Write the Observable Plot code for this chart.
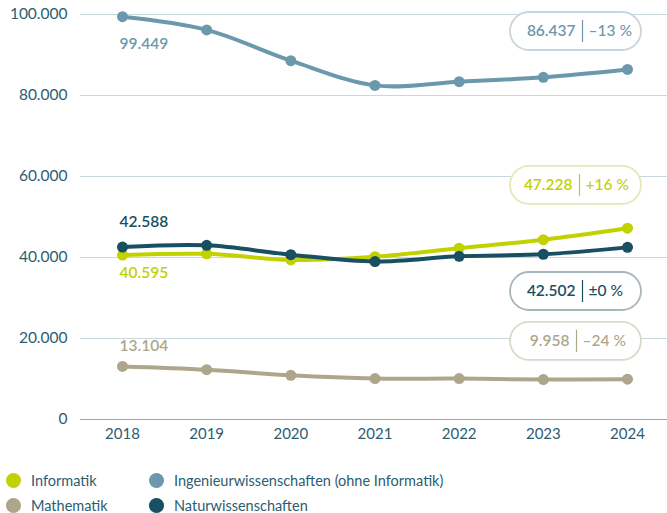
<!DOCTYPE html>
<html>
<head>
<meta charset="utf-8">
<script src="https://cdn.jsdelivr.net/npm/d3@7"></script>
<script src="https://cdn.jsdelivr.net/npm/@observablehq/plot@0.6"></script>
<style>
  html, body { margin: 0; padding: 0; background: #fff; }
  body { width: 667px; height: 513px; overflow: hidden; font-family: Lato, "Open Sans", sans-serif; }
  #legend { position: relative; height: 58px; color: #2b5d72; font-size: 14.5px; }
  .item { position: absolute; display: flex; align-items: center; white-space: nowrap; }
  .sw { width: 15px; height: 15px; border-radius: 50%; margin-right: 10px; }
</style>
</head>
<body>
<div id="chart"></div>
<div id="legend"></div>
<script>
// ---- data ----
const years = [2018, 2019, 2020, 2021, 2022, 2023, 2024];
const seriesNames = ["Informatik", "Ingenieurwissenschaften (ohne Informatik)", "Mathematik", "Naturwissenschaften"];
const informatik = [40595, 40900, 39400, 40200, 42300, 44400, 47228];
const ingenieur  = [99449, 96200, 88600, 82500, 83400, 84500, 86437];
const mathematik = [13104, 12300, 10900, 10100, 10100, 9850, 9958];
const natur      = [42588, 43000, 40700, 39000, 40300, 40800, 42502];
const changeLabels = ["+16 %", "\u201313 %", "\u201324 %", "\u00b10 %"];
const yTicks = [0, 20000, 40000, 60000, 80000, 100000];

// ---- styling / annotation placement ----
const colors = ["#c2d100", "#6b98ac", "#aea68a", "#184f62"];
const boxBorders = ["#e4eab2", "#c6d7df", "#ddd8c9", "#a9b6be"];
const boxY = [57800, 95800, 19300, 31600];       // box centre in y units
const sepDx = [-48, -45, -51, -45];              // separator offset from last year (px)
const startDy = [18, 27, -20, -25];              // first-value label offset (px)
const drawOrder = [2, 0, 1, 3];

const allSeries = [informatik, ingenieur, mathematik, natur];
const fmt = v => d3.format(",")(v).replace(/,/g, ".");

const rows = [];
drawOrder.forEach(s => years.forEach((yr, i) => rows.push({series: seriesNames[s], s, year: yr, value: allSeries[s][i]})));

const firstRows = allSeries.map((arr, s) => ({s, year: years[0], value: arr[0], label: fmt(arr[0])}));
const boxes = allSeries.map((arr, s) => ({s, year: years[years.length - 1], y: boxY[s],
  num: fmt(arr[arr.length - 1]), pct: changeLabels[s]}));

const marks = [
  Plot.gridY(yTicks.filter(d => d > 0), {stroke: "#c9d8df", strokeOpacity: 1, strokeWidth: 1}),
  Plot.ruleY([0], {stroke: "#8ea7b3", strokeWidth: 1.2}),
  Plot.axisY({ticks: yTicks, tickSize: 0, tickPadding: 13, tickFormat: fmt, fontSize: 15.5, fill: "#2b5d72", label: null}),
  Plot.axisX({ticks: years, tickSize: 0, tickPadding: 9, tickFormat: d => String(d), fontSize: 15, fill: "#2b5d72", label: null})
];
drawOrder.forEach(s => {
  const data = rows.filter(r => r.s === s);
  marks.push(Plot.line(data, {x: "year", y: "value", stroke: colors[s], strokeWidth: 4, curve: "catmull-rom"}));
  marks.push(Plot.dot(data, {x: "year", y: "value", fill: colors[s], r: 5.5}));
});
firstRows.forEach(d => {
  marks.push(Plot.text([d], {x: "year", y: "value", text: "label", fill: colors[d.s], textAnchor: "start",
    dx: -3, dy: startDy[d.s], fontSize: 15.5, fontWeight: 600}));
});
boxes.forEach(b => {
  marks.push(Plot.rect([b], {x1: "year", x2: "year", y1: "y", y2: "y", fill: "white", stroke: boxBorders[b.s],
    strokeWidth: 1.8, rx: 19, insetLeft: -117, insetRight: -14, insetTop: -19, insetBottom: -19}));
  marks.push(Plot.ruleX([b], {x: "year", y1: "y", y2: "y", dx: sepDx[b.s], stroke: colors[b.s], strokeWidth: 1.2,
    insetTop: -11, insetBottom: -11}));
  marks.push(Plot.text([b], {x: "year", y: "y", text: "num", fill: colors[b.s], textAnchor: "end",
    dx: sepDx[b.s] - 7, fontSize: 15.5, fontWeight: 600}));
  marks.push(Plot.text([b], {x: "year", y: "y", text: "pct", fill: colors[b.s], textAnchor: "start",
    dx: sepDx[b.s] + 6, fontSize: 15.5, fontWeight: 500}));
});

const chart = Plot.plot({
  width: 667,
  height: 455,
  marginLeft: 80,
  marginRight: 0,
  marginTop: 14,
  marginBottom: 36,
  insetLeft: 42,
  insetRight: 40,
  style: {fontFamily: "Lato, 'Open Sans', sans-serif", background: "white", overflow: "visible"},
  x: {type: "linear", domain: [2018, 2024]},
  y: {domain: [0, 100000]},
  marks
});
document.getElementById("chart").appendChild(chart);

// ---- legend ----
const legendPos = [[6, 27], [149, 27], [6, 52], [149, 52]];
const legend = document.getElementById("legend");
seriesNames.forEach((name, s) => {
  const el = document.createElement("div");
  el.className = "item";
  el.style.left = legendPos[s][0] + "px";
  el.style.top = (legendPos[s][1] - 10) + "px";
  el.innerHTML = `<span class="sw" style="background:${colors[s]}"></span><span>${name}</span>`;
  legend.appendChild(el);
});
</script>
</body>
</html>
